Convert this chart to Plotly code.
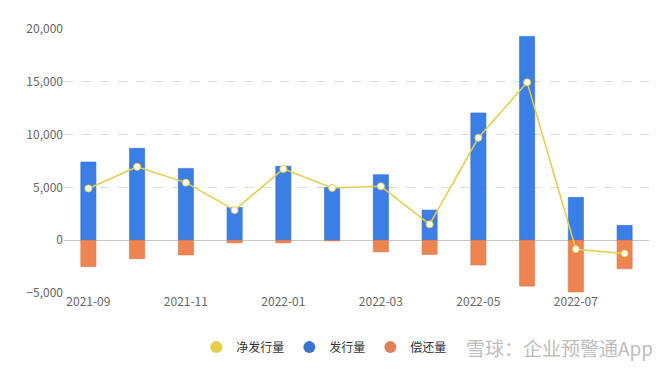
import plotly.graph_objects as go

months = ["2021-09", "2021-10", "2021-11", "2021-12", "2022-01", "2022-02",
          "2022-03", "2022-04", "2022-05", "2022-06", "2022-07", "2022-08"]
issuance = [7400, 8700, 6800, 3100, 7000, 5000, 6200, 2850, 12050, 19300, 4050, 1400]
repayment = [-2500, -1750, -1400, -250, -250, -60, -1100, -1350, -2350, -4350, -4900, -2700]
net_issuance = [4900, 6950, 5450, 2850, 6750, 4950, 5100, 1500, 9700, 14950, -850, -1250]
tick_months = ["2021-09", "2021-11", "2022-01", "2022-03", "2022-05", "2022-07"]
y_ticks = [-5000, 0, 5000, 10000, 15000, 20000]

C_NET = "#e6cd48"
C_ISS = "#3a7ee6"
C_REP = "#ef8453"
FONT = "Noto Sans CJK SC"

fig = go.Figure()
fig.add_trace(go.Bar(x=months, y=issuance, name="发行量", marker=dict(color=C_ISS, line=dict(color="#2f6bd0", width=0.6)),
                     width=0.31, showlegend=False))
fig.add_trace(go.Bar(x=months, y=repayment, name="偿还量", marker=dict(color=C_REP, line=dict(color="#d9744a", width=0.6)),
                     width=0.31, showlegend=False))
fig.add_trace(go.Scatter(x=months, y=net_issuance, name="净发行量", mode="lines+markers",
                         line=dict(color=C_NET, width=1.5),
                         marker=dict(color="white", size=7, line=dict(color=C_NET, width=1)),
                         showlegend=False))
# legend entries (circle symbols as in the reference)
for nm, col in [("净发行量", C_NET), ("发行量", "#3b74d0"), ("偿还量", "#e0805a")]:
    fig.add_trace(go.Scatter(x=[None], y=[None], mode="markers", name=nm,
                             marker=dict(color=col, size=9, symbol="circle")))

fig.add_annotation(text="雪球：企业预警通App", xref="paper", yref="paper", x=1.01, y=-0.205,
                   xanchor="right", yanchor="middle", showarrow=False,
                   font=dict(family=FONT, size=19, color="#bdbdbd"))

fig.update_layout(
    width=664, height=362,
    margin=dict(l=56, r=23, t=21, b=77, autoexpand=False),
    paper_bgcolor="white", plot_bgcolor="white",
    barmode="relative",
    font=dict(family=FONT, size=12, color="#666"),
    legend=dict(orientation="h", x=0.445, xanchor="center", y=-0.205, yanchor="middle",
                font=dict(family=FONT, size=12, color="#333"), itemsizing="constant",
                bgcolor="rgba(0,0,0,0)"),
    xaxis=dict(type="category", range=[-0.5, 11.5], tickmode="array", tickvals=tick_months, ticktext=tick_months,
               showgrid=False, showline=False, zeroline=False, ticks="", automargin=False,
               tickfont=dict(size=12, color="#666")),
    yaxis=dict(range=[-5000, 20000], tickvals=y_ticks, tickformat=",d", automargin=False,
               showgrid=True, gridcolor="#dcdcdc", griddash="dash", gridwidth=1,
               zeroline=True, zerolinecolor="#c8c8c8", zerolinewidth=1,
               showline=False, ticks="", tickfont=dict(size=12, color="#666")),
)

fig.write_html("out.html")
